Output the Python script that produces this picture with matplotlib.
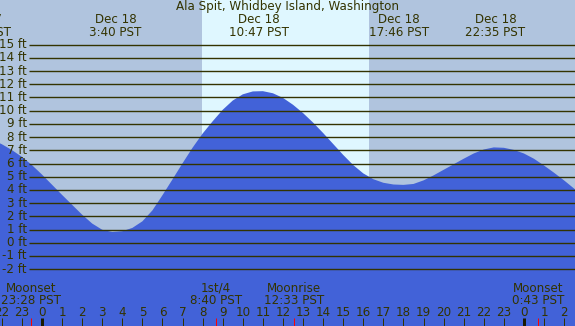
import numpy as np
import matplotlib
matplotlib.use("Agg")
import matplotlib.pyplot as plt

# tide height (ft) every half hour, hours from midnight Dec 18
tide_hours = np.arange(-2.5, 27.01, 0.5)
tide_ft = [7.82, 7.46, 7.02, 6.5, 5.88, 5.16, 4.39, 3.62, 2.87, 2.12,
           1.45, 0.98, 0.81, 0.87, 1.12, 1.62, 2.45, 3.6, 4.8, 6.02,
           7.2, 8.27, 9.2, 10.07, 10.77, 11.24, 11.46, 11.48, 11.32, 10.97,
           10.45, 9.82, 9.1, 8.31, 7.48, 6.65, 5.88, 5.25, 4.81, 4.54,
           4.41, 4.38, 4.45, 4.72, 5.1, 5.52, 5.94, 6.36, 6.76, 7.06,
           7.22, 7.19, 7.03, 6.76, 6.36, 5.85, 5.3, 4.72, 4.1, 3.5]

# tide extremes shown on top
event_hours = [-3.05, 3.667, 10.783, 17.767, 22.583]
event_dates = ["Dec 17", "Dec 18", "Dec 18", "Dec 18", "Dec 18"]
event_times = ["20:57 PST", "3:40 PST", "10:47 PST", "17:46 PST", "22:35 PST"]

# moon events shown at bottom
moon_hours = [-0.533, 8.667, 12.55, 24.717]
moon_names = ["Moonset", "1st/4", "Moonrise", "Moonset"]
moon_times = ["23:28 PST", "8:40 PST", "12:33 PST", "0:43 PST"]

sunrise, sunset = 7.95, 16.28
levels = list(range(-2, 16))
hour_ticks = list(range(-2, 27))

bg = "#b0c4de"
day = "#dff7ff"
water = "#4262d8"
ink = "#333300"

fig = plt.figure(figsize=(5.75, 3.26), dpi=100)
ax = fig.add_axes([0, 0, 1, 1])
ax.set_xlim(-2.092, 26.544)
ax.set_ylim(-6.31, 18.386)
ax.axis("off")
fig.patch.set_facecolor(bg)
ax.set_facecolor(bg)

ax.axvspan(sunrise, sunset, color=day, zorder=1, lw=0)
ax.fill_between(tide_hours, tide_ft, -10, color=water, zorder=2, lw=0)

ax.hlines(levels, 29 / 575, 1, transform=ax.get_yaxis_transform(),
          colors=ink, lw=1, zorder=3)
for lev in levels:
    ax.text(27 / 575, lev - 0.27, f"{lev} ft", transform=ax.get_yaxis_transform(),
            ha="right", va="baseline", fontsize=8.6, color=ink, zorder=4)

ax.text(0.5, 1 - 10 / 326, "Ala Spit, Whidbey Island, Washington",
        transform=ax.transAxes, ha="center", va="baseline", fontsize=8.6, color=ink)
for h, d, t in zip(event_hours, event_dates, event_times):
    ax.text(h, 1 - 23.3 / 326, d, transform=ax.get_xaxis_transform(),
            ha="center", va="baseline", fontsize=8.6, color=ink)
    ax.text(h, 1 - 35.7 / 326, t, transform=ax.get_xaxis_transform(),
            ha="center", va="baseline", fontsize=8.6, color=ink)

for h, n, t in zip(moon_hours, moon_names, moon_times):
    ax.text(h, 1 - 291.7 / 326, n, transform=ax.get_xaxis_transform(),
            ha="center", va="baseline", fontsize=8.6, color=ink, zorder=5)
    ax.text(h, 1 - 304 / 326, t, transform=ax.get_xaxis_transform(),
            ha="center", va="baseline", fontsize=8.6, color=ink, zorder=5)

for h in hour_ticks:
    ax.text(h, 1 - 315.7 / 326, str(h % 24), transform=ax.get_xaxis_transform(),
            ha="center", va="baseline", fontsize=8.6, color=ink, zorder=5)
    lw = 3 if h % 24 == 0 else 1
    ax.vlines(h, 0, 1 - 318 / 326, transform=ax.get_xaxis_transform(),
              colors=ink if lw == 1 else "#1a1a00", lw=lw * 0.72, zorder=5)
ax.vlines(moon_hours, 0, 1 - 318 / 326, transform=ax.get_xaxis_transform(),
          colors="red", lw=0.72, zorder=5)

fig.savefig("out.png", dpi=100, facecolor=bg)
